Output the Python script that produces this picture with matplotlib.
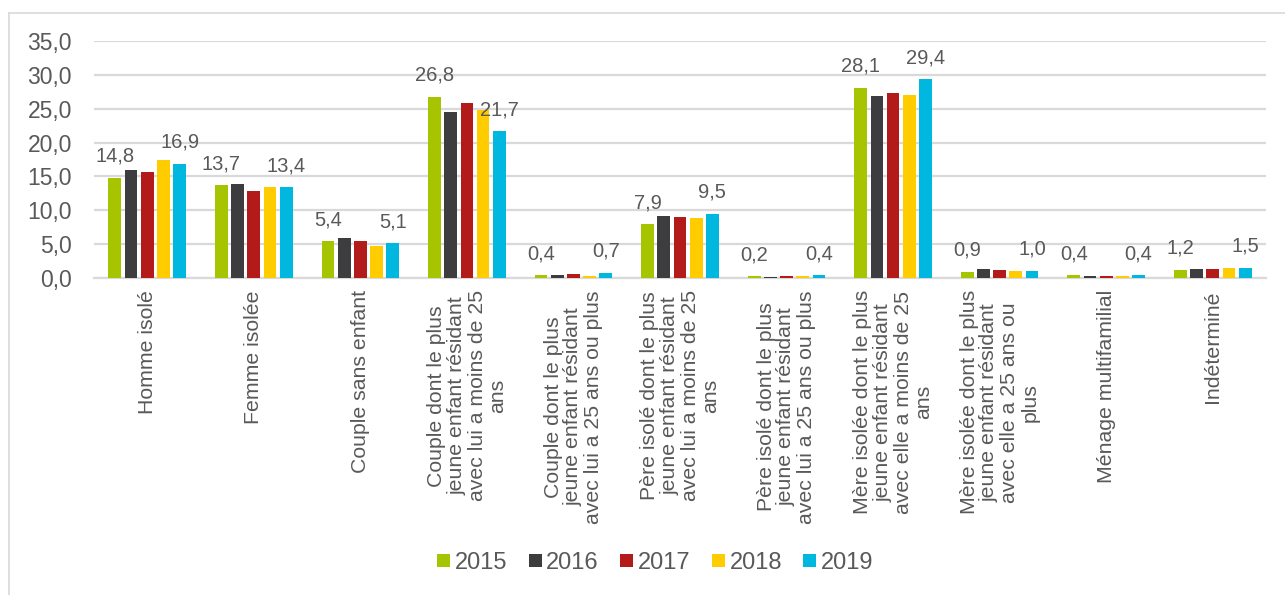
import matplotlib
matplotlib.use('Agg')
import matplotlib.pyplot as plt
from matplotlib.lines import Line2D
import numpy as np

plt.rcParams['font.family'] = ['Liberation Sans', 'DejaVu Sans']

# categories (wrapped as in the source chart)
categories = [
    'Homme isolé',
    'Femme isolée',
    'Couple sans enfant',
    'Couple dont le plus\njeune enfant résidant\navec lui a moins de 25\nans',
    'Couple dont le plus\njeune enfant résidant\navec lui a 25 ans ou plus',
    'Père isolé dont le plus\njeune enfant résidant\navec lui a moins de 25\nans',
    'Père isolé dont le plus\njeune enfant résidant\navec lui a 25 ans ou plus',
    'Mère isolée dont le plus\njeune enfant résidant\navec elle a moins de 25\nans',
    'Mère isolée dont le plus\njeune enfant résidant\navec elle a 25 ans ou\nplus',
    'Ménage multifamilial',
    'Indéterminé',
]

years = ['2015', '2016', '2017', '2018', '2019']
v2015 = [14.8, 13.7, 5.4, 26.8, 0.4, 7.9, 0.2, 28.1, 0.9, 0.4, 1.2]
v2016 = [15.9, 13.8, 5.9, 24.5, 0.35, 9.1, 0.15, 26.9, 1.3, 0.25, 1.3]
v2017 = [15.6, 12.9, 5.4, 25.8, 0.6, 9.0, 0.2, 27.4, 1.1, 0.3, 1.3]
v2018 = [17.4, 13.4, 4.7, 24.8, 0.25, 8.9, 0.3, 27.1, 1.0, 0.25, 1.5]
v2019 = [16.9, 13.4, 5.1, 21.7, 0.7, 9.5, 0.4, 29.4, 1.0, 0.4, 1.5]
series = [v2015, v2016, v2017, v2018, v2019]

colors = ['#A6C400', '#3D3D3F', '#B31B1B', '#FFCC00', '#00B7DF']
text_col = '#595959'
grid_col = '#D9D9D9'

fig = plt.figure(figsize=(12.85, 5.95), dpi=100)
ax = fig.add_axes([94 / 1285, 1 - 277.7 / 595, (1266 - 94) / 1285, (277.7 - 41.3) / 595])

x = np.arange(len(categories))
slot = 0.152
width = 0.12
for i, (vals, col, yr) in enumerate(zip(series, colors, years)):
    pos = x + (i - 2) * slot
    ax.bar(pos, vals, width, color=col, label=yr, zorder=3)
    # only first and last year carry data labels
    if i in (0, 4):
        for px, v in zip(pos, vals):
            ax.annotate(f'{v:.1f}'.replace('.', ','), (px, v), xytext=(0, 11.5),
                        textcoords='offset points', ha='center', va='baseline',
                        fontsize=14.5, color=text_col)

ax.set_xlim(-0.5, len(categories) - 0.5)
ax.set_ylim(0, 35)
ax.set_yticks(np.arange(0, 36, 5))
ax.set_yticklabels([f'{t:.1f}'.replace('.', ',') for t in np.arange(0, 36, 5)])
ax.yaxis.grid(True, color=grid_col, linewidth=1.6)
ax.set_axisbelow(True)

ax.set_xticks(x)
ax.set_xticklabels(categories, rotation=90, fontsize=15.3, color=text_col, linespacing=1.08)
for lab in ax.get_xticklabels():
    lab.set_multialignment('center')
ax.tick_params(axis='x', length=0, pad=9)
ax.tick_params(axis='y', length=0, pad=16, labelsize=16.5, labelcolor=text_col)

for s in ['top', 'right', 'left']:
    ax.spines[s].set_visible(False)
ax.spines['bottom'].set_color(grid_col)
ax.spines['bottom'].set_linewidth(1.6)

leg = fig.legend(loc='center', bbox_to_anchor=(0.51, 0.054), ncol=5, frameon=False,
                 fontsize=17, handlelength=0.55, handleheight=0.45, handletextpad=0.2,
                 columnspacing=0.9)
for t in leg.get_texts():
    t.set_color(text_col)

# outer chart frame (top and left edges visible)
fig.add_artist(Line2D([8.5 / 1285, 1], [1 - 12.5 / 595, 1 - 12.5 / 595], color=grid_col, lw=1.2))
fig.add_artist(Line2D([8.5 / 1285, 8.5 / 1285], [0, 1 - 12.5 / 595], color=grid_col, lw=1.2))

plt.savefig('out.png', dpi=100)
